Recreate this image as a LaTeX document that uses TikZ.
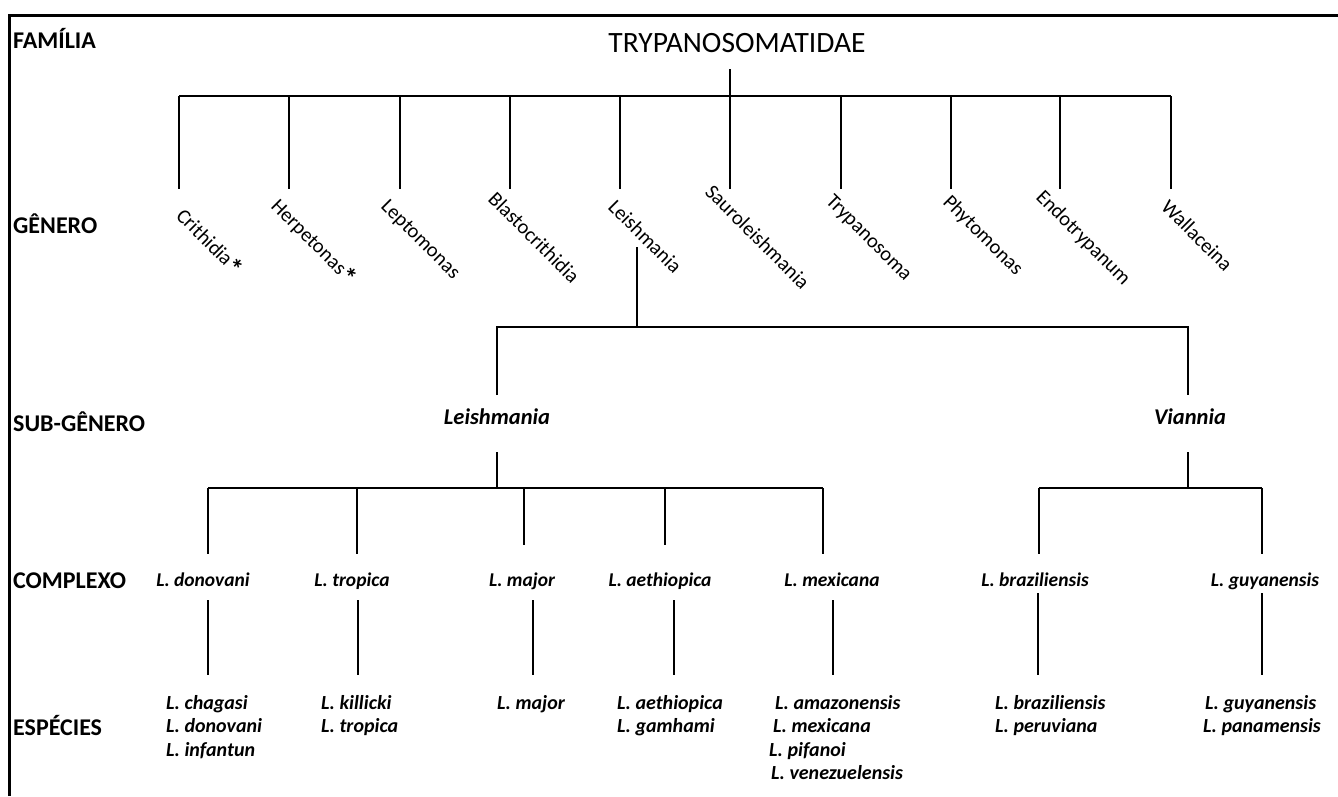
\documentclass[tikz,border=0pt]{standalone}
\usepackage{fontspec}
\setmainfont{Carlito}
\newcommand{\bigast}{{\fontsize{27}{27}\selectfont\bfseries\raisebox{-0.25ex}{*}}}
\tikzset{
  lvl/.style={font=\fontsize{24}{28}\selectfont\bfseries, anchor=base west, inner sep=0pt},
  genlab/.style={font=\fontsize{20.5}{24}\selectfont, rotate=-45, anchor=base west, inner sep=0pt},
  sublab/.style={font=\fontsize{22.5}{26}\selectfont\bfseries\itshape, anchor=base, inner sep=0pt},
  comlab/.style={font=\fontsize{19.5}{23}\selectfont\bfseries\itshape, anchor=base, inner sep=0pt},
  splab/.style={font=\fontsize{20}{23}\selectfont\bfseries\itshape, anchor=base west, inner sep=0pt},
  tree/.style={line width=1.4pt, black},
  frame/.style={line width=3pt, black}
}
\begin{document}
\begin{tikzpicture}[x=1pt,y=-1pt]
\useasboundingbox (0,0) rectangle (1338,796);
% frame
\coordinate (fbl) at (9,796);
\coordinate (ftl) at (9,15);
\coordinate (ftr) at (1338,15);
\draw[frame] (fbl) -- (ftl) -- (ftr);

% level labels
\node[lvl] (lfam) at (13,48) {FAMÍLIA};
\node[lvl] (lgen) at (13,233) {GÊNERO};
\node[lvl] (lsub) at (13,431) {SUB-GÊNERO};
\node[lvl] (lcom) at (13,588) {COMPLEXO};
\node[lvl] (lesp) at (13,735) {ESPÉCIES};

% family
\node[font=\fontsize{29.5}{34}\selectfont, anchor=base, inner sep=0pt] (fam) at (737,52) {TRYPANOSOMATIDAE};
\coordinate (famlow) at (730,69);
\coordinate (gmid) at (730,96);
\draw[tree] (famlow) -- (gmid);

% genus bar and verticals
\foreach \i/\x in {1/179,2/289,3/400,4/510,5/620,6/730,7/841,8/951,9/1060,10/1171}{
  \coordinate (gt\i) at (\x,96);
  \coordinate (gb\i) at (\x,189);
  \draw[tree] (gt\i) -- (gb\i);
}
\draw[tree] (gt1) -- (gt10);

% genus labels
\foreach \i/\x/\y/\t in {1/175/217/{Crithidia\bigast},2/270/207/{Herpetonas\bigast},3/380/207/{Leptomonas},4/487/200/{Blastocrithidia},5/607/208/{Leishmania},6/704/193/{Sauroleishmania},7/825/202/{Trypanosoma},8/942/203/{Phytomonas},9/1035/198/{Endotrypanum},10/1160/208/{Wallaceina}}{
  \node[genlab] (gen\i) at (\x,\y) {\t};
}

% Leishmania genus -> subgenera
\coordinate (lgt) at (637,247);
\coordinate (lgb) at (637,327);
\draw[tree] (lgt) -- (lgb);
\coordinate (sLt) at (497,327);
\coordinate (sLb) at (497,395);
\coordinate (sVt) at (1188,327);
\coordinate (sVb) at (1188,395);
\draw[tree] (sLb) -- (sLt) -- (sVt) -- (sVb);

\node[sublab] (subL) at (497,424) {Leishmania};
\node[sublab] (subV) at (1190,424) {Viannia};

% subgenus Leishmania -> complexes
\coordinate (sLd1) at (497,452);
\coordinate (sLd2) at (497,488);
\draw[tree] (sLd1) -- (sLd2);
\foreach \i/\x/\e in {1/208/554,2/357/554,3/524/545,4/665/545,5/823/554}{
  \coordinate (ct\i) at (\x,488);
  \coordinate (cb\i) at (\x,\e);
  \draw[tree] (ct\i) -- (cb\i);
}
\draw[tree] (ct1) -- (ct5);

% subgenus Viannia -> complexes
\coordinate (sVd1) at (1188,452);
\coordinate (sVd2) at (1188,488);
\draw[tree] (sVd1) -- (sVd2);
\foreach \i/\x in {6/1039,7/1262}{
  \coordinate (ct\i) at (\x,488);
  \coordinate (cb\i) at (\x,554);
  \draw[tree] (ct\i) -- (cb\i);
}
\draw[tree] (ct6) -- (ct7);

% complexes
\node[comlab] (c1) at (203,586) {L. donovani};
\node[comlab] (c2) at (352,586) {L. tropica};
\node[comlab] (c3) at (522,586) {L. major};
\node[comlab] (c4) at (660,586) {L. aethiopica};
\node[comlab] (c5) at (832,586) {L. mexicana};
\node[comlab] (c6) at (1035,586) {L. braziliensis};
\node[comlab] (c7) at (1265,586) {L. guyanensis};

% complex -> species lines
\foreach \i/\x/\s in {1/208/600,2/358/600,3/533/600,4/674/600,5/833/600,6/1038/593,7/1262/593}{
  \coordinate (st\i) at (\x,\s);
  \coordinate (sb\i) at (\x,675);
  \draw[tree] (st\i) -- (sb\i);
}

% species
\node[splab] (s11) at (166,709) {L. chagasi};
\node[splab] (s12) at (166,732.5) {L. donovani};
\node[splab] (s13) at (166,756) {L. infantun};
\node[splab] (s21) at (321,709) {L. killicki};
\node[splab] (s22) at (321,732.5) {L. tropica};
\node[splab] (s31) at (497,709) {L. major};
\node[splab] (s41) at (617,709) {L. aethiopica};
\node[splab] (s42) at (617,732.5) {L. gamhami};
\node[splab] (s51) at (775,709) {L. amazonensis};
\node[splab] (s52) at (773,732.5) {L. mexicana};
\node[splab] (s53) at (769,756) {L. pifanoi};
\node[splab] (s54) at (771,779.5) {L. venezuelensis};
\node[splab] (s61) at (995,709) {L. braziliensis};
\node[splab] (s62) at (995,732.5) {L. peruviana};
\node[splab] (s71) at (1205,709) {L. guyanensis};
\node[splab] (s72) at (1203,732.5) {L. panamensis};
\end{tikzpicture}
\end{document}
